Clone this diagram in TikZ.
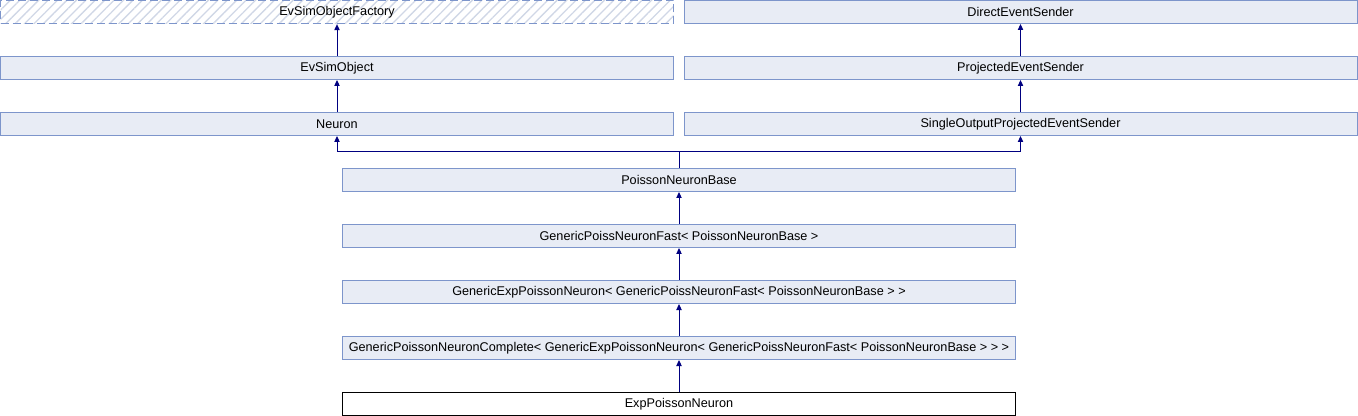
\documentclass[tikz,border=0pt]{standalone}
\usepackage{fontspec}
\setmainfont{Liberation Sans}
\usetikzlibrary{arrows.meta,patterns.meta}
\definecolor{boxfill}{HTML}{E8ECF5}
\definecolor{boxline}{HTML}{7D95CB}
\definecolor{edgeblue}{HTML}{000080}
\definecolor{hatchgrey}{HTML}{D0D7E6}
\begin{document}
\begin{tikzpicture}[x=0.75pt,y=-0.75pt,>={Triangle[length=4.5pt,width=4pt]}]
    \tikzstyle{cls}=[draw=boxline, fill=boxfill, line width=0.75pt, inner sep=0pt,
        minimum width=504.75pt, minimum height=17.25pt, font=\fontsize{9.5}{11}\selectfont]
    \tikzstyle{external cls}=[cls, dash pattern=on 6pt off 3pt, fill=none,
        pattern={Lines[angle=45,distance=5pt,line width=1pt]}, pattern color=hatchgrey]
    \tikzstyle{this cls}=[cls, draw=black, fill=white]
    \tikzstyle{inherit}=[->, draw=edgeblue, line width=0.75pt]
    \useasboundingbox (0,0) rectangle (1358,416);

    % Left branch
    \node[external cls] (EF) at (337,12) {EvSimObjectFactory};
    \node[cls] (ES) at (337,68) {EvSimObject};
    \node[cls] (N) at (337,124) {Neuron};

    % Right branch
    \node[cls] (DS) at (1020.5,12) {DirectEventSender};
    \node[cls] (PS) at (1020.5,68) {ProjectedEventSender};
    \node[cls] (SS) at (1020.5,124) {SingleOutputProjectedEventSender};

    % Middle chain
    \node[cls] (PB) at (679,180) {PoissonNeuronBase};
    \node[cls] (GF) at (679,236) {GenericPoissNeuronFast< PoissonNeuronBase >};
    \node[cls] (GE) at (679,292) {GenericExpPoissonNeuron< GenericPoissNeuronFast< PoissonNeuronBase > >};
    \node[cls] (GC) at (679,348) {GenericPoissonNeuronComplete< GenericExpPoissonNeuron< GenericPoissNeuronFast< PoissonNeuronBase > > >};
    \node[this cls] (EP) at (679,404) {ExpPoissonNeuron};

    % Single inheritance
    \foreach \child/\parent in {ES/EF,N/ES,PS/DS,SS/PS,GF/PB,GE/GF,GC/GE,EP/GC}
        \draw[inherit] (\child.north) -- (\parent.south);

    % Multiple inheritance of PoissonNeuronBase
    \coordinate (join) at (679,152);
    \draw[inherit] (PB.north) -- (join) -| (N.south);
    \draw[inherit] (join) -| (SS.south);
\end{tikzpicture}
\end{document}
